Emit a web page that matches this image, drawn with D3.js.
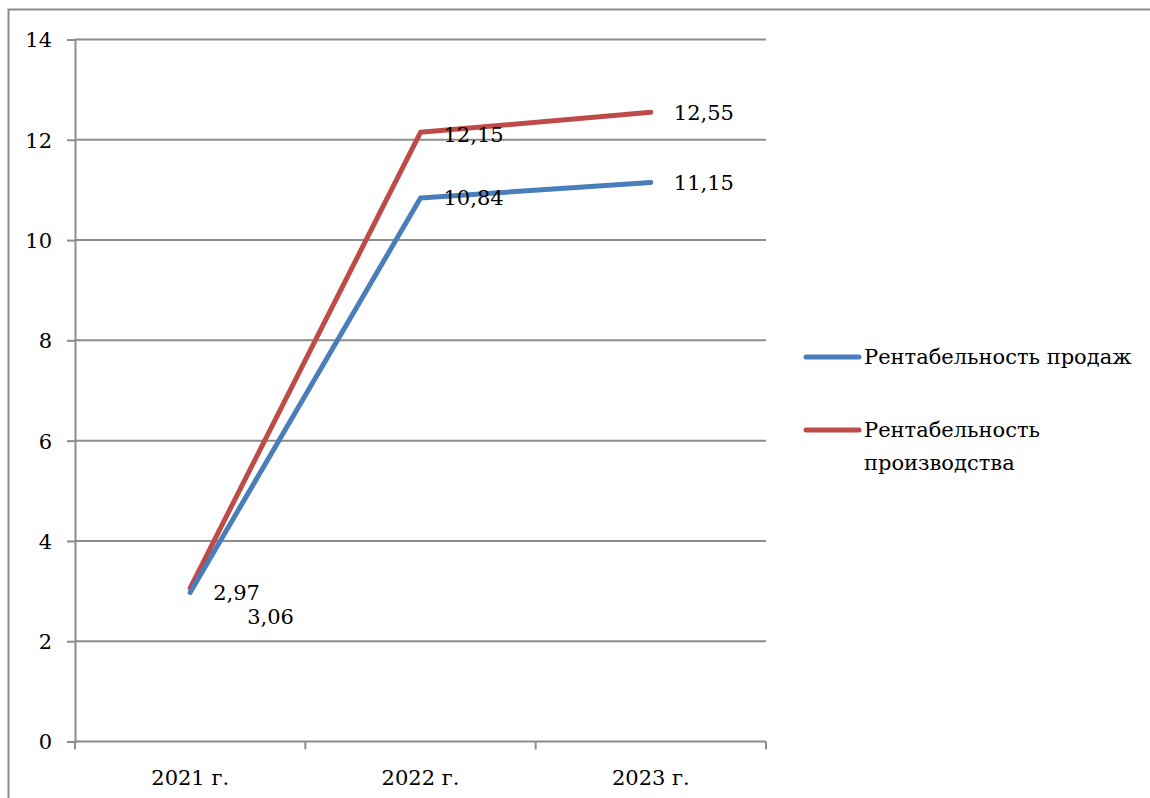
<!DOCTYPE html>
<html>
<head>
<meta charset="utf-8">
<script src="https://cdnjs.cloudflare.com/ajax/libs/d3/7.8.5/d3.min.js"></script>
</head>
<body style="margin:0">
<svg id="chart" width="1150" height="798"></svg>
<script>
// Profitability indicators, %, by year
const years = ["2021 г.", "2022 г.", "2023 г."];
const salesProfitability = [2.97, 10.84, 11.15];
const productionProfitability = [3.06, 12.15, 12.55];
const yTicks = [0, 2, 4, 6, 8, 10, 12, 14];
const seriesNames = ["Рентабельность продаж", "Рентабельность производства"];
const seriesColors = ["#4a7ebb", "#be4b48"];

const FONT = "DejaVu Serif";
const FSIZE = 21;
const svg = d3.select("#chart");
const gridColor = "#8c8c8c";

svg.append("rect").attr("width", 1150).attr("height", 798).attr("fill", "#fff");

// Outer chart frame
svg.append("rect")
  .attr("x", 8.5).attr("y", 9.5)
  .attr("width", 1200).attr("height", 900)
  .attr("fill", "none").attr("stroke", gridColor).attr("stroke-width", 2);

const plotLeft = 75, plotRight = 766, plotTop = 39.5, plotBottom = 741.5;

const x = d3.scaleBand().domain(years).range([plotLeft, plotRight]).padding(0);
const y = d3.scaleLinear().domain([0, 14]).range([plotBottom, plotTop]);

// Horizontal gridlines
svg.append("g").selectAll("line")
  .data(yTicks.filter(d => d > 0))
  .join("line")
  .attr("x1", plotLeft).attr("x2", plotRight)
  .attr("y1", d => y(d)).attr("y2", d => y(d))
  .attr("stroke", gridColor).attr("stroke-width", 2);

// Y axis
const yAxis = svg.append("g")
  .attr("transform", `translate(${plotLeft},0)`)
  .call(d3.axisLeft(y).tickValues(yTicks).tickSize(8).tickPadding(15).tickFormat(d3.format("d")));
yAxis.attr("font-family", FONT).attr("font-size", FSIZE);
yAxis.select(".domain").attr("stroke", gridColor).attr("stroke-width", 2);
yAxis.selectAll(".tick line").attr("stroke", gridColor).attr("stroke-width", 2);
yAxis.selectAll(".tick text")
  .attr("font-family", FONT).attr("font-size", FSIZE)
  .attr("fill", "#000").attr("dy", "0.35em");

// X axis with ticks at category boundaries
const xAxisG = svg.append("g").attr("transform", `translate(0,${plotBottom})`);
xAxisG.append("line")
  .attr("x1", plotLeft).attr("x2", plotRight)
  .attr("stroke", gridColor).attr("stroke-width", 2);
const boundaries = years.map(d => x(d)).concat([plotRight]);
xAxisG.selectAll("line.b")
  .data(boundaries)
  .join("line").attr("class", "b")
  .attr("x1", d => d).attr("x2", d => d)
  .attr("y1", 0).attr("y2", 8)
  .attr("stroke", gridColor).attr("stroke-width", 2);
xAxisG.selectAll("text")
  .data(years)
  .join("text")
  .attr("x", d => x(d) + x.bandwidth() / 2)
  .attr("y", 43)
  .attr("text-anchor", "middle")
  .attr("font-family", FONT).attr("font-size", FSIZE)
  .text(d => d);

// Lines
const cx = d => x(d) + x.bandwidth() / 2;
const line = d3.line().x((d, i) => cx(years[i])).y(d => y(d));
const series = [salesProfitability, productionProfitability];

// Red drawn first, blue on top at the start point
[1, 0].forEach(k => {
  svg.append("path")
    .datum(series[k])
    .attr("d", line)
    .attr("fill", "none")
    .attr("stroke", seriesColors[k])
    .attr("stroke-width", 5)
    .attr("stroke-linecap", "round")
    .attr("stroke-linejoin", "round");
});

// Data labels (with small manual offsets to separate overlaps)
const labelOffsets = [
  [[23, 0], [23, 0], [23, 0]],
  [[57, 29], [23, 2], [23, 0]]
];
series.forEach((vals, k) => {
  svg.append("g").selectAll("text")
    .data(vals)
    .join("text")
    .attr("x", (d, i) => cx(years[i]) + labelOffsets[k][i][0])
    .attr("y", (d, i) => y(d) + labelOffsets[k][i][1])
    .attr("dy", "0.35em")
    .attr("font-family", FONT).attr("font-size", FSIZE)
    .text(d => d3.format(".2f")(d).replace(".", ","));
});

// Legend
const legend = svg.append("g");
const legendRows = [
  { y: 357, lines: [seriesNames[0]] },
  { y: 430, lines: ["Рентабельность", "производства"] }
];
legendRows.forEach((r, k) => {
  legend.append("line")
    .attr("x1", 806).attr("x2", 859)
    .attr("y1", r.y).attr("y2", r.y)
    .attr("stroke", seriesColors[k]).attr("stroke-width", 5)
    .attr("stroke-linecap", "round");
  r.lines.forEach((t, j) => {
    legend.append("text")
      .attr("x", 864).attr("y", r.y + j * 33)
      .attr("dy", "0.35em")
      .attr("font-family", FONT).attr("font-size", FSIZE)
      .text(t);
  });
});
</script>
</body>
</html>
